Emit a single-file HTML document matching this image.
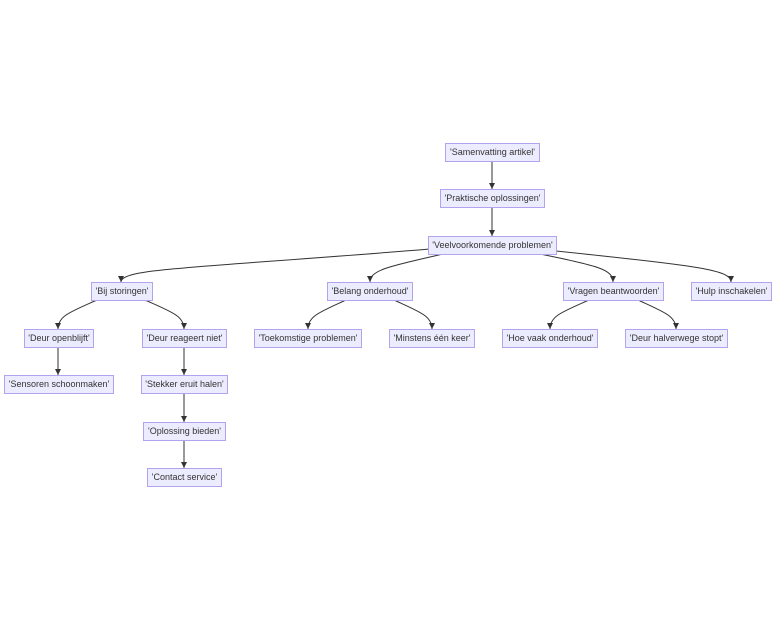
<!DOCTYPE html>
<html><head><meta charset="utf-8"><style>
body{margin:0;width:784px;height:630px;background:#fff;position:relative;overflow:hidden;font-family:"Liberation Sans",sans-serif}
.n{position:absolute;height:17px;line-height:17px;background:#ececff;border:1px solid #b3a3ee;box-sizing:content-box;font-size:9px;color:#333;text-align:center;white-space:nowrap}
svg{position:absolute;left:0;top:0}
</style></head><body>
<svg width="784" height="630">
<defs><marker id="a" markerWidth="8" markerHeight="8" refX="4" refY="7" orient="auto" markerUnits="userSpaceOnUse" viewBox="0 0 8 8"><path d="M0,0 L8,0 L4,7 z" fill="#333" transform="rotate(0)"/></marker></defs>
<g fill="none" stroke="#333" stroke-width="1">
<path d="M492,161 V189"/>
<path d="M492,207 V236"/>
<path d="M430,249 C200,268 121,268 121,282"/>
<path d="M443,254 C390,266 370,270 370,282"/>
<path d="M540,254 C600,266 613,270 613,282"/>
<path d="M556,251 C700,266 731,270 731,282"/>
<path d="M97,300 C70,312 58,316 58,329"/>
<path d="M145,300 C172,312 184,316 184,329"/>
<path d="M346,300 C320,312 308,316 308,329"/>
<path d="M394,300 C420,312 432,316 432,329"/>
<path d="M589,300 C562,312 550,316 550,329"/>
<path d="M638,300 C664,312 676,316 676,329"/>
<path d="M58,347 V375"/>
<path d="M184,347 V375"/>
<path d="M184,393 V422"/>
<path d="M184,440 V468"/>
</g>
<g fill="#333">
<path d="M489,183 h6 l-3,6z"/><path d="M489,230 h6 l-3,6z"/>
<path d="M118,276 h6 l-3,6z"/><path d="M367,276 h6 l-3,6z"/><path d="M610,276 h6 l-3,6z"/><path d="M728,276 h6 l-3,6z"/>
<path d="M55,323 h6 l-3,6z"/><path d="M181,323 h6 l-3,6z"/><path d="M305,323 h6 l-3,6z"/><path d="M429,323 h6 l-3,6z"/><path d="M547,323 h6 l-3,6z"/><path d="M673,323 h6 l-3,6z"/>
<path d="M55,369 h6 l-3,6z"/><path d="M181,369 h6 l-3,6z"/><path d="M181,416 h6 l-3,6z"/><path d="M181,462 h6 l-3,6z"/>
</g>
</svg>
<div class="n" style="left:445px;top:143px;width:93px">'Samenvatting artikel'</div>
<div class="n" style="left:440px;top:189px;width:103px">'Praktische oplossingen'</div>
<div class="n" style="left:428px;top:236px;width:127px">'Veelvoorkomende problemen'</div>
<div class="n" style="left:91px;top:282px;width:60px">'Bij storingen'</div>
<div class="n" style="left:327px;top:282px;width:84px">'Belang onderhoud'</div>
<div class="n" style="left:563px;top:282px;width:99px">'Vragen beantwoorden'</div>
<div class="n" style="left:691px;top:282px;width:79px">'Hulp inschakelen'</div>
<div class="n" style="left:24px;top:329px;width:68px">'Deur openblijft'</div>
<div class="n" style="left:142px;top:329px;width:83px">'Deur reageert niet'</div>
<div class="n" style="left:254px;top:329px;width:106px">'Toekomstige problemen'</div>
<div class="n" style="left:389px;top:329px;width:84px">'Minstens één keer'</div>
<div class="n" style="left:502px;top:329px;width:94px">'Hoe vaak onderhoud'</div>
<div class="n" style="left:625px;top:329px;width:101px">'Deur halverwege stopt'</div>
<div class="n" style="left:4px;top:375px;width:108px">'Sensoren schoonmaken'</div>
<div class="n" style="left:141px;top:375px;width:85px">'Stekker eruit halen'</div>
<div class="n" style="left:143px;top:422px;width:81px">'Oplossing bieden'</div>
<div class="n" style="left:147px;top:468px;width:73px">'Contact service'</div>
</body></html>
